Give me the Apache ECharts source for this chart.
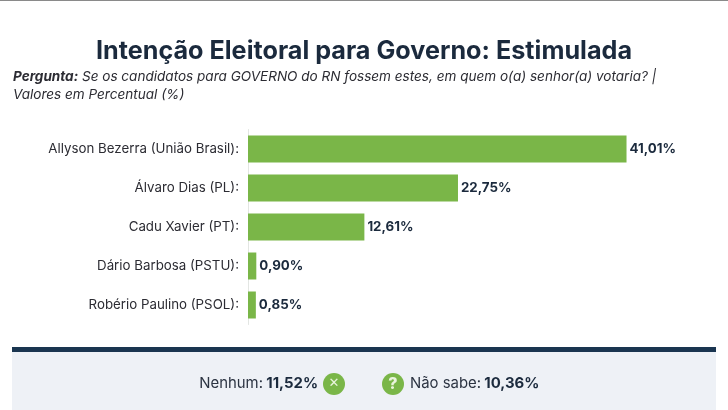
<!DOCTYPE html>
<html>
<head>
<meta charset="utf-8">
<style>html,body{margin:0;padding:0;background:#fff}#c{width:728px;height:410px}</style>
<script src="https://cdn.jsdelivr.net/npm/echarts@6/dist/echarts.min.js"></script>
</head>
<body>
<div id="c"></div>
<script>
const candidates = ['Allyson Bezerra (União Brasil):', 'Álvaro Dias (PL):', 'Cadu Xavier (PT):', 'Dário Barbosa (PSTU):', 'Robério Paulino (PSOL):'];
const percentages = [41.01, 22.75, 12.61, 0.90, 0.85];
const noneLabel = 'Nenhum:';
const noneValue = '11,52%';
const unsureLabel = 'Não sabe:';
const unsureValue = '10,36%';

const FONT = 'Inter, "Open Sans", sans-serif';
const INK = '#1b2a3d';
const GREEN = '#7ab648';
const fmt = v => v.toFixed(2).replace('.', ',') + '%';

const chart = echarts.init(document.getElementById('c'), null, { renderer: 'canvas' });
chart.setOption({
  animation: false,
  backgroundColor: '#ffffff',
  title: [
    { text: 'Intenção Eleitoral para Governo: Estimulada', left: 359, top: 34, textAlign: 'center',
      textStyle: { fontFamily: FONT, fontSize: 25.2, fontWeight: 700, color: INK } },
    { text: '{b|Pergunta:} Se os candidatos para GOVERNO do RN fossem estes, em quem o(a) senhor(a) votaria? |\nValores em Percentual (%)',
      left: 8, top: 63,
      textStyle: { fontFamily: FONT, fontSize: 13.55, fontStyle: 'italic', fontWeight: 'normal', color: '#2c2c33', lineHeight: 18,
        rich: { b: { fontFamily: FONT, fontSize: 13.55, fontStyle: 'italic', fontWeight: 700, color: '#2c2c33' } } } }
  ],
  grid: { left: 248, top: 129.5, width: 461.5, height: 195, containLabel: false },
  xAxis: { type: 'value', min: 0, max: 50, show: false },
  yAxis: {
    type: 'category', data: candidates, inverse: true,
    axisLine: { show: true, lineStyle: { color: '#e3e6e3', width: 1 } },
    axisTick: { show: false },
    axisLabel: { fontFamily: FONT, fontSize: 13.3, color: '#2c2c33', margin: 9 }
  },
  series: [{
    type: 'bar', data: percentages, barWidth: 27,
    itemStyle: { color: GREEN },
    label: { show: true, position: 'right', distance: 3, formatter: p => fmt(p.value),
      fontFamily: FONT, fontSize: 13.3, fontWeight: 700, color: INK }
  }],
  graphic: [
    { type: 'rect', silent: true, shape: { x: 0, y: 0, width: 728, height: 1 }, style: { fill: '#8a8a8a' } },
    { type: 'rect', silent: true, shape: { x: 12, y: 352, width: 704, height: 58 }, style: { fill: '#eef1f6' } },
    { type: 'rect', silent: true, shape: { x: 12, y: 347, width: 704, height: 5 }, style: { fill: '#1a3550' } },
    { type: 'text', silent: true, style: { x: 318, y: 384, align: 'right', verticalAlign: 'middle',
        text: '{n|' + noneLabel + '} {v|' + noneValue + '}',
        rich: { n: { fontFamily: FONT, fontSize: 14.9, fill: '#2c3442' }, v: { fontFamily: FONT, fontSize: 14.9, fontWeight: 700, fill: INK } } } },
    { type: 'circle', silent: true, shape: { cx: 334, cy: 384, r: 11 }, style: { fill: GREEN } },
    { type: 'text', silent: true, style: { x: 334, y: 384, align: 'center', verticalAlign: 'middle', text: '✕',
        fontFamily: 'DejaVu Sans', fontSize: 13, fontWeight: 700, fill: '#eaf4dd' } },
    { type: 'circle', silent: true, shape: { cx: 393, cy: 384, r: 11 }, style: { fill: GREEN } },
    { type: 'text', silent: true, style: { x: 393, y: 384, align: 'center', verticalAlign: 'middle', text: '?',
        fontFamily: FONT, fontSize: 16, fontWeight: 800, fill: '#eaf4dd' } },
    { type: 'text', silent: true, style: { x: 410, y: 384, align: 'left', verticalAlign: 'middle',
        text: '{n|' + unsureLabel + '} {v|' + unsureValue + '}',
        rich: { n: { fontFamily: FONT, fontSize: 14.9, fill: '#2c3442' }, v: { fontFamily: FONT, fontSize: 14.9, fontWeight: 700, fill: INK } } } }
  ]
});
</script>
</body>
</html>
